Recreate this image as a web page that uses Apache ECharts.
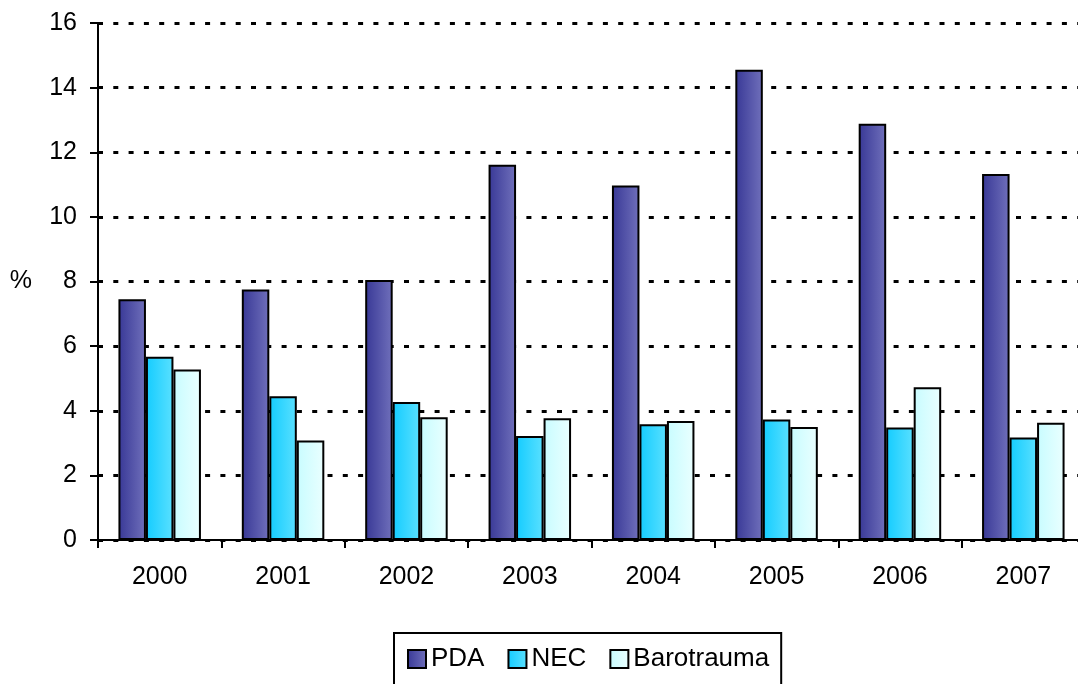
<!DOCTYPE html>
<html>
<head>
<meta charset="utf-8">
<script src="https://cdn.jsdelivr.net/npm/echarts@6/dist/echarts.min.js"></script>
<style>
  html, body { margin: 0; padding: 0; background: #fff; }
  #chart { width: 1078px; height: 684px; }
</style>
</head>
<body>
<div id="chart"></div>
<script>
const years = ['2000', '2001', '2002', '2003', '2004', '2005', '2006', '2007']
const pda = [7.45, 7.75, 8.05, 11.61, 10.97, 14.55, 12.88, 11.33]
const nec = [5.67, 4.45, 4.27, 3.22, 3.58, 3.73, 3.48, 3.17]
const barotrauma = [5.28, 3.08, 3.8, 3.77, 3.68, 3.5, 4.73, 3.63]
const yTicks = [0, 2, 4, 6, 8, 10, 12, 14, 16]

const font = 'Liberation Sans, Arial, sans-serif'

// horizontal gradient, darker on the left like the original bars
function grad(a, b) {
  return new echarts.graphic.LinearGradient(0, 0, 1, 0, [
    { offset: 0, color: a },
    { offset: 1, color: b }
  ])
}

const fills = {
  PDA: grad('#383896', '#7070bb'),
  NEC: grad('#14ccff', '#5ae0ff'),
  Barotrauma: grad('#c8fcff', '#eaffff')
}

function barSeries(name, data) {
  return {
    name,
    type: 'bar',
    data,
    barWidth: 27.5,
    barGap: '0%',
    itemStyle: { color: fills[name], borderColor: '#000', borderWidth: 2 }
  }
}

const chart = echarts.init(document.getElementById('chart'))
chart.setOption({
  animation: false,
  textStyle: { fontFamily: font },
  grid: { left: 98, top: 23, right: -7, bottom: 144, containLabel: false, outerBoundsMode: 'none' },
  legend: {
    top: 633,
    left: 394,
    data: ['PDA', 'NEC', 'Barotrauma'],
    icon: 'rect',
    itemWidth: 18,
    itemHeight: 18,
    itemGap: 23,
    borderColor: '#000',
    borderWidth: 2,
    padding: [13, 12, 30, 13],
    textStyle: { fontSize: 26, color: '#000', fontFamily: font },
    itemStyle: { borderColor: '#000', borderWidth: 2 }
  },
  xAxis: {
    type: 'category',
    data: years,
    axisLine: { lineStyle: { color: '#000', width: 2 } },
    axisTick: { show: true, length: 8, inside: false, lineStyle: { color: '#000', width: 2 } },
    axisLabel: { fontSize: 25, color: '#000', margin: 25, fontFamily: font }
  },
  yAxis: {
    type: 'value',
    min: yTicks[0],
    max: yTicks[yTicks.length - 1],
    interval: 2,
    name: '%',
    nameLocation: 'middle',
    nameRotate: 0,
    nameGap: 66,
    nameTextStyle: { fontSize: 25, color: '#000', fontFamily: font },
    axisLine: { show: true, lineStyle: { color: '#000', width: 2 } },
    axisTick: { show: true, length: 8, lineStyle: { color: '#000', width: 2 } },
    axisLabel: { fontSize: 25, color: '#000', margin: 21, fontFamily: font },
    splitLine: { show: true, lineStyle: { color: '#000', width: 3, type: [5, 10.3] } }
  },
  series: [
    barSeries('PDA', pda),
    barSeries('NEC', nec),
    barSeries('Barotrauma', barotrauma)
  ]
})
</script>
</body>
</html>
